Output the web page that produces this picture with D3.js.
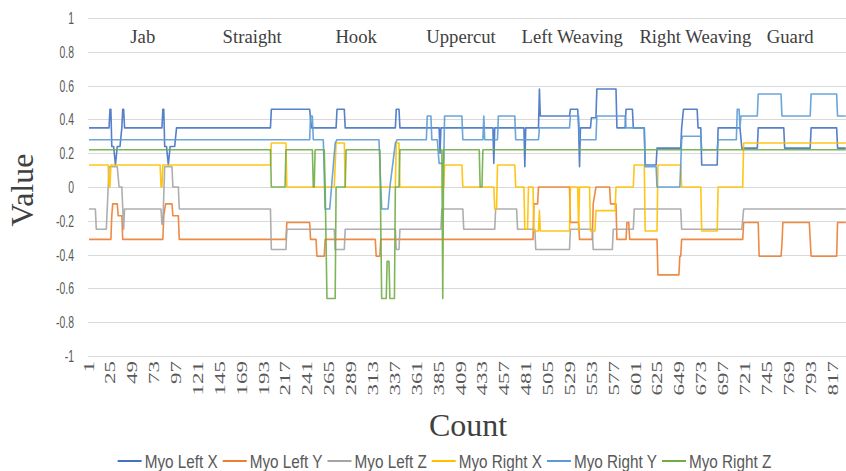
<!DOCTYPE html>
<html>
<head>
<meta charset="utf-8">
<script src="https://d3js.org/d3.v7.min.js"></script>
<style>
  body { margin: 0; background: #fff; }
  svg { display: block; }
  .grid { stroke: #d9d9d9; stroke-width: 1; }
  .series { fill: none; stroke-width: 1.6; stroke-linejoin: round; opacity: 0.9; }
  .ytick { font: 16px "Liberation Sans", Arial, sans-serif; fill: #595959; }
  .xtick { font: 23px "Liberation Serif", "Times New Roman", serif; fill: #595959; }
  .move { font: 18.7px "Liberation Serif", "Times New Roman", serif; fill: #404040; }
  .title { font: 32px "Liberation Serif", "Times New Roman", serif; fill: #404040; }
  .legend { font: 18px "Liberation Sans", Arial, sans-serif; fill: #595959; }
</style>
</head>
<body>
<script>
var width = 846, height = 471;

// movement names and the count their label sits over
var moves = ["Jab", "Straight", "Hook", "Uppercut", "Left Weaving", "Right Weaving", "Guard"];
var moveAt = [60, 180, 294, 409, 531, 666, 770];

var yTicks = [1, 0.8, 0.6, 0.4, 0.2, 0, -0.2, -0.4, -0.6, -0.8, -1];
var yTickLabels = ["1", "0.8", "0.6", "0.4", "0.2", "0", "-0.2", "-0.4", "-0.6", "-0.8", "-1"];
var xTicks = [1, 25, 49, 73, 97, 121, 145, 169, 193, 217, 241, 265, 289, 313, 337, 361, 385,
  409, 433, 457, 481, 505, 529, 553, 577, 601, 625, 649, 673, 697, 721, 745, 769, 793, 817];

// series as [count, value] vertices
var leftX = [[1,.35],[23,.35],[24,.46],[25,.46],[26,.24],[28,.24],[30,.13],[32,.24],[35,.24],[37,.35],[38,.46],[39,.46],[40,.35],
  [81,.35],[82,.46],[83,.46],[84,.24],[86,.24],[88,.13],[90,.24],[95,.24],[97,.35],
  [200,.35],[201,.46],[243,.46],[245,.35],[272,.35],[273,.46],[281,.46],[282,.35],[337,.35],[338,.46],[341,.46],[342,.35],
  [385,.35],[386,.2],[387,.35],[444,.35],[445,.14],[446,.35],[478,.35],[479,.12],[480,.35],
  [494,.35],[495,.58],[496,.42],[528,.42],[529,.46],[537,.46],[538,.35],[539,.12],[540,.35],
  [551,.35],[552,.41],[557,.41],[558,.58],[579,.58],[580,.35],[589,.35],[590,.46],[597,.46],[598,.35],[610,.35],
  [611,.13],[623,.13],[624,.23],[650,.23],[651,.35],[653,.46],[668,.46],[669,.35],[672,.35],[673,.13],[690,.13],
  [691,.35],[715,.35],[717,.23],[734,.23],[735,.35],[763,.35],[764,.23],[792,.23],[793,.35],[821,.35],[822,.23],[831,.23]];

var leftY = [[1,-.31],[25,-.31],[26,-.17],[27,-.1],[32,-.1],[33,-.17],[37,-.17],[38,-.31],
  [82,-.31],[83,-.17],[85,-.1],[92,-.1],[93,-.17],[99,-.17],[100,-.31],
  [217,-.31],[218,-.21],[243,-.21],[244,-.31],[250,-.31],[251,-.41],[259,-.41],[260,-.31],
  [315,-.31],[316,-.41],[320,-.41],[321,-.31],[488,-.31],[489,-.1],[493,-.1],[494,0],[528,0],[529,-.21],[538,-.21],[539,-.31],
  [553,-.31],[554,-.1],[557,0],[572,0],[573,-.1],[579,-.1],[580,-.31],[590,-.31],[591,-.21],[593,-.21],[594,-.31],
  [624,-.31],[625,-.52],[648,-.52],[649,-.41],[650,-.41],[651,-.31],[718,-.31],[719,-.21],[735,-.21],[736,-.41],
  [760,-.41],[761,-.34],[762,-.21],[791,-.21],[793,-.41],[821,-.41],[822,-.21],[831,-.21]];

var leftZ = [[1,-.13],[8,-.13],[9,-.25],[20,-.25],[21,-.13],[23,.12],[32,.12],[34,0],[37,0],[39,-.25],[40,-.13],
  [80,-.13],[81,-.22],[82,-.22],[84,.12],[92,.12],[93,0],[99,0],[100,-.13],
  [200,-.13],[201,-.37],[217,-.37],[218,-.25],[270,-.25],[271,-.37],[281,-.37],[282,-.25],[337,-.25],[338,-.37],[341,-.37],[342,-.25],
  [387,-.25],[388,-.13],[411,-.13],[412,-.25],[446,-.25],[447,-.13],[470,-.13],[471,-.25],[490,-.25],[491,-.37],[528,-.37],[529,-.25],
  [553,-.25],[554,-.37],[575,-.37],[576,-.25],[598,-.25],[599,-.13],[650,-.13],[651,-.25],[717,-.25],[719,-.13],[831,-.13]];

var rightX = [[1,.13],[22,.13],[23,0],[24,0],[25,.13],[79,.13],[80,0],[81,0],[82,.13],
  [200,.13],[201,.26],[217,.26],[218,0],[270,0],[272,.26],[281,.26],[282,0],[337,0],[338,.26],[341,.26],[342,0],
  [390,0],[391,.13],[410,.13],[411,0],[445,0],[446,-.13],[448,-.13],[449,.13],[468,.13],[469,0],
  [478,0],[479,-.25],[482,-.25],[483,0],[488,0],[489,-.26],[494,-.26],[495,-.14],[496,-.26],[528,-.26],[529,0],
  [537,0],[538,-.26],[539,0],[550,0],[551,-.26],[556,-.26],[557,-.14],[578,-.14],[579,0],[598,0],[599,.13],[610,.13],
  [611,-.26],[624,-.26],[625,.13],[650,.13],[651,0],[672,0],[673,-.26],[690,-.26],[691,0],[718,0],[719,.26],[831,.26]];

var rightY = [[1,.28],[243,.28],[244,.42],[246,.42],[247,.28],[258,.28],[260,-.13],[265,-.13],[267,0],[269,.13],[271,.26],[273,.28],
  [319,.28],[322,-.13],[329,-.13],[331,0],[334,.13],[337,.26],[339,.28],
  [371,.28],[372,.42],[376,.42],[377,.28],[383,.28],[385,.14],[390,.14],[391,.42],[410,.42],[411,.28],[433,.28],[434,.42],[435,.28],
  [449,.28],[450,.42],[468,.42],[469,.28],[494,.28],[495,.35],[528,.35],[529,.42],[538,.42],[539,.28],[557,.28],[558,.42],
  [589,.42],[590,.35],[610,.35],[611,.12],[623,.12],[624,0],[649,0],[650,.13],[651,.28],[652,.3],[672,.3],[673,.22],[690,.22],
  [691,.28],[711,.28],[712,.46],[714,.46],[715,.35],[716,.42],[734,.42],[735,.55],[760,.55],[761,.42],[792,.42],[793,.55],
  [821,.55],[822,.42],[831,.42]];

var rightZ = [[1,.22],[200,.22],[201,0],[216,0],[217,.22],[246,.22],[247,0],[248,0],[249,.22],[259,.22],[260,0],[262,-.66],
  [271,-.66],[272,0],[282,0],[283,.22],[320,.22],[322,-.66],[327,-.66],[328,-.44],[330,-.44],[331,-.66],[336,-.66],[337,0],
  [341,0],[342,.22],[388,.22],[389,-.66],[390,.22],[429,.22],[430,0],[432,0],[433,.22],[831,.22]];

var seriesNames = ["Myo Left X", "Myo Left Y", "Myo Left Z", "Myo Right X", "Myo Right Y", "Myo Right Z"];
var seriesData = [leftX, leftY, leftZ, rightX, rightY, rightZ];
var colors = ["#4472C4", "#ED7D31", "#A5A5A5", "#FFC000", "#5B9BD5", "#70AD47"];

var svg = d3.select("body").append("svg")
  .attr("width", width).attr("height", height);

var x = d3.scaleLinear().domain([1, 817]).range([89, 833]);
var y = d3.scaleLinear().domain([-1, 1]).range([356, 18]);

// gridlines
svg.selectAll(".grid")
  .data(yTicks)
  .enter().append("line")
  .attr("class", "grid")
  .attr("x1", 88).attr("x2", width)
  .attr("y1", function(d) { return Math.round(y(d)) + 0.5; })
  .attr("y2", function(d) { return Math.round(y(d)) + 0.5; });

// y tick labels
svg.selectAll(".ytick")
  .data(yTicks)
  .enter().append("text")
  .attr("class", "ytick")
  .attr("text-anchor", "end")
  .attr("transform", function(d) { return "translate(74," + (y(d) + 6) + ") scale(0.65,1)"; })
  .text(function(d, i) { return yTickLabels[i]; });

// x tick labels, rotated
svg.selectAll(".xtick")
  .data(xTicks)
  .enter().append("text")
  .attr("class", "xtick")
  .attr("text-anchor", "end")
  .attr("transform", function(d) { return "translate(" + (x(d) + 4.5) + ",361) rotate(-90) scale(1,0.62)"; })
  .text(function(d) { return d; });

// movement labels
svg.selectAll(".move")
  .data(moves)
  .enter().append("text")
  .attr("class", "move")
  .attr("text-anchor", "middle")
  .attr("x", function(d, i) { return x(moveAt[i]); })
  .attr("y", 43)
  .text(function(d) { return d; });

// axis titles
svg.append("text")
  .attr("class", "title")
  .attr("text-anchor", "middle")
  .attr("transform", "translate(33,190) rotate(-90)")
  .text("Value");

svg.append("text")
  .attr("class", "title")
  .attr("text-anchor", "middle")
  .attr("x", 468).attr("y", 436)
  .text("Count");

// lines
var line = d3.line()
  .x(function(d) { return x(d[0]); })
  .y(function(d) { return y(d[1]); });

svg.selectAll(".series")
  .data(seriesData)
  .enter().append("path")
  .attr("class", "series")
  .attr("stroke", function(d, i) { return colors[i]; })
  .attr("d", line);

// legend
var legend = svg.append("g");
var items = legend.selectAll("g")
  .data(seriesNames)
  .enter().append("g");

items.append("line")
  .attr("x1", 0).attr("x2", 24)
  .attr("y1", 0).attr("y2", 0)
  .attr("stroke", function(d, i) { return colors[i]; })
  .attr("stroke-width", 2);

items.append("text")
  .attr("class", "legend")
  .attr("transform", "translate(27,6.5) scale(0.85,1)")
  .text(function(d) { return d; });

var pos = 0, gap = 5, widths = [];
items.each(function() {
  var w = 27 + this.querySelector("text").getComputedTextLength() * 0.85;
  widths.push(w);
});
var total = d3.sum(widths) + gap * (widths.length - 1);
var start = 444.5 - total / 2;
items.attr("transform", function(d, i) {
  var t = "translate(" + (start + pos) + ",461)";
  pos += widths[i] + gap;
  return t;
});
</script>
</body>
</html>
